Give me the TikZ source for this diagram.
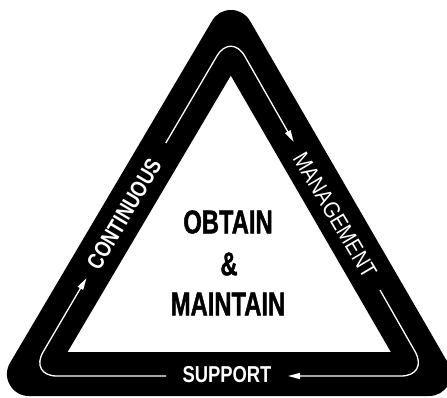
\documentclass[tikz,border=0pt]{standalone}
\usepackage{fontspec}
\setmainfont{Liberation Sans}
\newfontfamily\condc[FakeStretch=0.72,FakeBold=1.2]{Liberation Sans}
\newfontfamily\condw[FakeStretch=0.80]{Liberation Sans}
\newfontfamily\condm[FakeStretch=0.86]{Liberation Sans}
\usetikzlibrary{arrows.meta}
\begin{document}
\begin{tikzpicture}[x=1pt,y=-1pt,
  band/.style={draw=black, line width=44pt, line join=round},
  flow/.style={draw=white, line width=1.3pt, rounded corners=28pt},
  flowarrow/.style={flow, -{Triangle[length=12pt,width=6pt]}},
  bandlabel/.style={text=white, inner sep=0pt, font=\condw\bfseries\fontsize{23}{23}\selectfont},
  centerlabel/.style={text=black, inner sep=0pt, font=\condc\bfseries\fontsize{33}{33}\selectfont}]
\useasboundingbox (0,0) rectangle (447,397);
% centre line of the black band
\coordinate (A) at (231,32);
\coordinate (B) at (29,374);
\coordinate (C) at (429,374);
\draw[band] (A) -- (B) -- (C) -- cycle;
% white flow line corners
\coordinate (wa) at (231,32);
\coordinate (wb) at (29,376);
\coordinate (wc) at (429,376);
% flow line ends
\coordinate (r1) at (380,290);
\coordinate (s1) at (288,376);
\coordinate (s2) at (166,376);
\coordinate (l1) at (86.5,278);
\coordinate (l2) at (165.8,143);
\coordinate (r2) at (293.7,142);
\draw[flowarrow] (r1) -- (wc) -- (s1);
\draw[flowarrow] (s2) -- (wb) -- (l1);
\draw[flowarrow] (l2) -- (wa) -- (r2);
% labels on the band
\node[bandlabel] (support) at (227,375) {SUPPORT};
\node[bandlabel, rotate=59.4] (continuous) at (124,214) {CONTINUOUS};
\node[bandlabel, rotate=-59.4, font=\condm\fontsize{23}{23}\selectfont] (management) at (335,215) {MANAGEMENT};
% centre text
\node[centerlabel] (obtain) at (228,222) {OBTAIN};
\node[centerlabel] (amp) at (229,264) {\&};
\node[centerlabel] (maintain) at (228,304) {MAINTAIN};
\end{tikzpicture}
\end{document}
